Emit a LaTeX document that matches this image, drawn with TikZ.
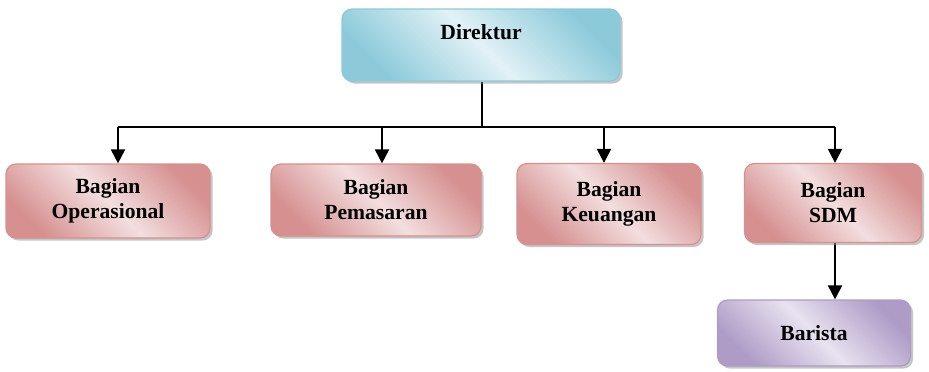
\documentclass[tikz,border=0pt]{standalone}
\usepackage{fontspec}
\setmainfont{Liberation Serif}
\usetikzlibrary{arrows.meta,shadows,positioning}
\pgfdeclarelayer{edgelayer}
\pgfdeclarelayer{nodelayer}
\pgfsetlayers{edgelayer,nodelayer,main}
\definecolor{bluelight}{RGB}{226,241,246}
\definecolor{bluedark}{RGB}{140,202,218}
\definecolor{pinklight}{RGB}{243,222,223}
\definecolor{pinkdark}{RGB}{214,144,144}
\definecolor{purplelight}{RGB}{232,226,240}
\definecolor{purpledark}{RGB}{174,156,198}
\tikzstyle{none}=[inner sep=0pt]
\tikzstyle{unit}=[rectangle,rounded corners=5pt,align=center,line width=0.6pt,font=\bfseries\fontsize{10.8}{12.5}\selectfont,drop shadow={shadow xshift=1.3pt,shadow yshift=-1.3pt,fill=black!45}]
\tikzstyle{head}=[unit,draw=bluedark,top color=bluedark,bottom color=bluedark,middle color=bluelight,shading angle=-45]
\tikzstyle{dept}=[unit,draw=pinkdark,top color=pinkdark,bottom color=pinkdark,middle color=pinklight,shading angle=-45]
\tikzstyle{staff}=[unit,draw=purpledark,top color=purpledark,bottom color=purpledark,middle color=purplelight,shading angle=-45]
\tikzstyle{link}=[-,line width=1pt]
\tikzstyle{inarrow}=[-{Triangle[length=7pt,width=7pt]},line width=1pt]
\begin{document}
\begin{tikzpicture}[x=1pt,y=1pt]
	\useasboundingbox (0,0) rectangle (464.5,185.5);
	\begin{pgfonlayer}{nodelayer}
		\node [style=head,minimum width=139pt,minimum height=36pt] (Dir) at (240.5,163) {Direktur\\\phantom{D}};
		\node [style=dept,minimum width=102pt,minimum height=37pt] (Ops) at (54,85) {Bagian\\Operasional};
		\node [style=dept,minimum width=105pt,minimum height=36pt] (Pem) at (188,85.5) {Bagian\\Pemasaran};
		\node [style=dept,minimum width=92pt,minimum height=40.5pt] (Keu) at (304.5,83.5) {Bagian\\Keuangan};
		\node [style=dept,minimum width=88.5pt,minimum height=39.5pt] (SDM) at (416.5,84) {Bagian\\SDM};
		\node [style=staff,minimum width=96.5pt,minimum height=33pt] (Bar) at (407,19) {Barista};
		\coordinate (J) at (241,122);
		\coordinate (b1) at (59,122);
		\coordinate (b2) at (191,122);
		\coordinate (b3) at (302,122);
		\coordinate (b4) at (417.5,122);
	\end{pgfonlayer}
	\begin{pgfonlayer}{edgelayer}
		\draw [style=link] (J |- Dir.south) to (J);
		\draw [style=link] (b1) to (b4);
		\draw [style=inarrow] (b1) to (b1 |- Ops.north);
		\draw [style=inarrow] (b2) to (b2 |- Pem.north);
		\draw [style=inarrow] (b3) to (b3 |- Keu.north);
		\draw [style=inarrow] (b4) to (b4 |- SDM.north);
		\draw [style=inarrow] (b4 |- SDM.south) to (b4 |- Bar.north);
	\end{pgfonlayer}
\end{tikzpicture}
\end{document}
